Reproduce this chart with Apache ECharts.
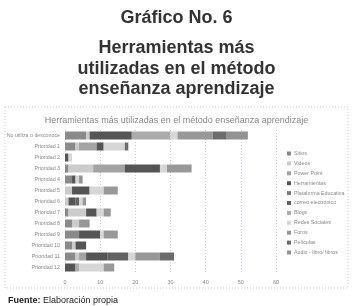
<!DOCTYPE html>
<html>
<head>
<meta charset="utf-8">
<script src="https://cdn.jsdelivr.net/npm/echarts@6/dist/echarts.min.js"></script>
<style>
  html, body { margin: 0; padding: 0; background: #fff; }
  #main { width: 353px; height: 306px; }
</style>
</head>
<body>
<div id="main"></div>
<script>
// categorias (eje vertical)
var categorias = ['No utiliza o desconoce', 'Prioridad 1', 'Prioridad 2', 'Prioridad 3', 'Prioridad 4',
  'Prioridad 5', 'Prioridad 6', 'Prioridad 7', 'Prioridad 8', 'Prioridad 9', 'Prioridad 10',
  'Prioridad 11', 'Prioridad 12'];

// una lista por herramienta, en el orden de categorias
var sitios       = [6, 3, 0, 1, 2, 0, 0, 1, 2, 4, 2, 3, 0];
var videos       = [1, 1, 0, 7, 0, 2, 1, 5, 2, 0, 1, 1, 0];
var powerPoint   = [0, 5, 0, 9, 0, 0, 0, 0, 0, 0, 0, 2, 0];
var herramientas = [12, 2, 1, 10, 1, 5, 2, 3, 0, 6, 3, 6, 3];
var plataforma   = [0, 0, 0, 0, 0, 0, 0, 0, 0, 0, 0, 0, 0];
var correo       = [0, 0, 0, 0, 0, 0, 1, 0, 0, 0, 0, 6, 0];
var blogs        = [11, 0, 0, 0, 0, 0, 0, 0, 0, 0, 0, 0, 1];
var redes        = [2, 6, 1, 2, 1, 4, 1, 2, 0, 1, 0, 2, 7];
var foros        = [10, 0, 0, 7, 0, 4, 1, 2, 3, 4, 0, 7, 3];
var peliculas    = [4, 1, 0, 0, 0, 0, 0, 0, 0, 0, 0, 4, 0];
var audio        = [6, 0, 0, 0, 1, 0, 0, 0, 0, 0, 0, 0, 0];

var nombres = ['Sitios', 'Videos', 'Power Point', 'Herramientas', 'Plataforma Educativa',
  'correo electrónico', 'Blogs', 'Redes Sociales', 'Foros', 'Películas', 'Audio - libro/ libros'];
var valores = [sitios, videos, powerPoint, herramientas, plataforma, correo, blogs, redes, foros, peliculas, audio];
var colores = ['#8a8a8a', '#cbcbcb', '#a3a3a3', '#555555', '#7c7c7c', '#626262',
  '#ababab', '#d6d6d6', '#989898', '#6c6c6c', '#939393'];

var series = nombres.map(function (n, i) {
  return {
    name: n,
    type: 'bar',
    stack: 'total',
    barWidth: 8,
    itemStyle: { color: colores[i] },
    data: valores[i]
  };
});

var negrita = { fontSize: 18, fontWeight: 'bold', color: '#333', fontFamily: 'Liberation Sans' };

var myChart = echarts.init(document.getElementById('main'));
myChart.setOption({
  animation: false,
  textStyle: { fontFamily: 'Liberation Sans' },
  title: [
    { text: 'Gráfico No. 6', left: 'center', top: 4, textStyle: negrita },
    { text: 'Herramientas más', left: 'center', top: 34, textStyle: negrita },
    { text: 'utilizadas en el método', left: 'center', top: 55, textStyle: negrita },
    { text: 'enseñanza aprendizaje', left: 'center', top: 75, textStyle: negrita },
    {
      text: 'Herramientas más utilizadas en el método enseñanza aprendizaje',
      left: 'center', top: 111,
      textStyle: { fontSize: 9, fontWeight: 'normal', color: '#888', fontFamily: 'Liberation Sans' }
    },
    {
      text: '{b|Fuente:} Elaboración propia',
      left: 3, top: 291,
      textStyle: {
        fontSize: 9, fontWeight: 'normal', color: '#222', fontFamily: 'Liberation Sans',
        rich: { b: { fontSize: 9, fontWeight: 'bold', color: '#222', fontFamily: 'Liberation Sans' } }
      }
    }
  ],
  graphic: [{
    type: 'rect',
    shape: { x: 5, y: 107, width: 343, height: 181 },
    style: { fill: 'none', stroke: '#ccc', lineWidth: 1, lineDash: [1, 2] }
  }],
  legend: {
    orient: 'vertical',
    left: 282, top: 146,
    itemWidth: 4, itemHeight: 4, itemGap: 4.9,
    icon: 'rect',
    textStyle: { fontSize: 5.3, color: '#888', padding: [0, 0, 0, -2] },
    data: nombres
  },
  grid: { left: 65, right: 77, top: 130, height: 143 },
  xAxis: {
    type: 'value',
    min: 0, max: 60, interval: 10,
    axisLine: { show: false },
    axisTick: { show: false },
    axisLabel: { fontSize: 5.5, color: '#888', margin: 6 },
    splitLine: { lineStyle: { color: '#c8c8d8', type: [1, 2] } }
  },
  yAxis: {
    type: 'category',
    inverse: true,
    data: categorias,
    axisLine: { show: false },
    axisTick: { show: false },
    axisLabel: { fontSize: 5.3, color: '#888', margin: 5 }
  },
  series: series
});
</script>
</body>
</html>
